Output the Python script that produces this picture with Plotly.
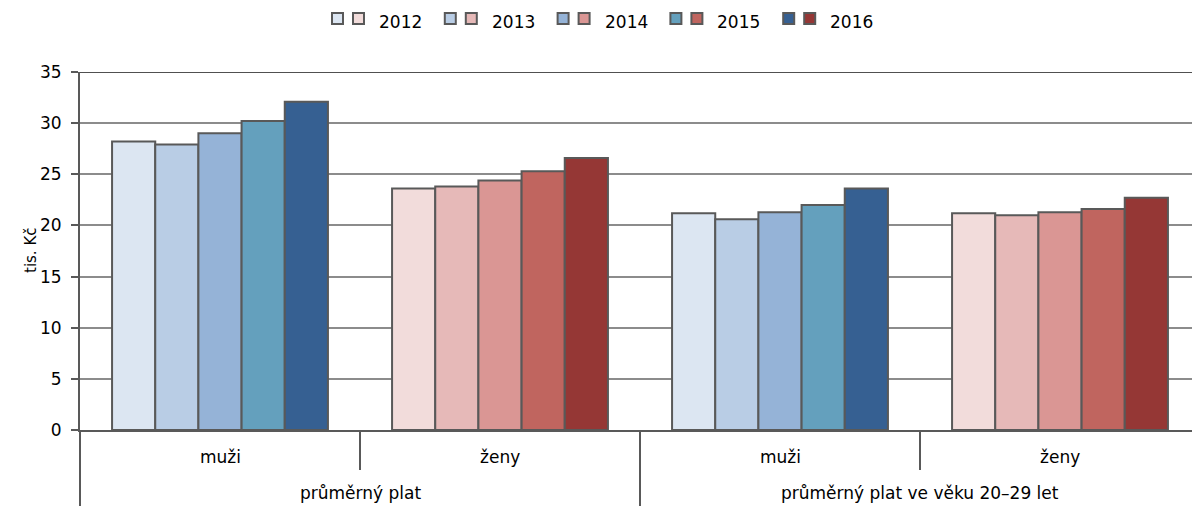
import plotly.graph_objects as go

# ---- data ----
groups = ["průměrný plat", "průměrný plat ve věku 20–29 let"]
sexes = ["muži", "ženy"]
years = ["2012", "2013", "2014", "2015", "2016"]

prumerny_muzi = [28.2, 27.9, 29.0, 30.2, 32.1]
prumerny_zeny = [23.6, 23.8, 24.4, 25.3, 26.6]
mladi_muzi = [21.2, 20.6, 21.3, 22.0, 23.6]
mladi_zeny = [21.2, 21.0, 21.3, 21.6, 22.7]

y_ticks = [0, 5, 10, 15, 20, 25, 30, 35]
y_title = "tis. Kč"

# ---- styling ----
blues = ["#dce6f2", "#b9cde5", "#95b3d7", "#64a0bd", "#366092"]
reds = ["#f2dcdb", "#e6b9b8", "#da9694", "#c0655f", "#953735"]
edge = "#595959"
FONT = "DejaVu Sans"
FS = 17

W, H = 1192, 506
ML, MR, MT, MB = 80, 0, 72, 76
PW, PH = W - ML - MR, H - MT - MB
XR = [-0.5, -0.5 + PW / 280.0]

series = [prumerny_muzi, prumerny_zeny, mladi_muzi, mladi_zeny]
positions = list(range(len(series)))
cat_colors = [blues, reds, blues, reds]

fig = go.Figure()
for i, yr in enumerate(years):
    fig.add_trace(go.Bar(
        x=positions,
        y=[s[i] for s in series],
        name=yr,
        marker=dict(color=[c[i] for c in cat_colors],
                    line=dict(color=edge, width=2)),
        showlegend=False,
        hoverinfo="y",
    ))


def px_x(data_x):
    return (data_x - XR[0]) / (XR[1] - XR[0])


def pix_to_paper_x(px):
    return (px - ML) / PW


def pix_to_paper_y(py):
    return (MT + PH - py) / PH


shapes = []
annotations = []

# top border line at max
shapes.append(dict(type="line", xref="paper", yref="y", x0=0, x1=1, y0=35, y1=35,
                   line=dict(color="#505050", width=2)))

font = dict(size=FS, color="#000", family=FONT)

# category dividers and labels
for j, p in enumerate(positions):
    annotations.append(dict(text=sexes[j % 2], xref="paper", yref="paper",
                            x=px_x(p), y=0, yshift=-27, showarrow=False,
                            xanchor="center", yanchor="middle", font=font))
    if j % 2 == 0:
        shapes.append(dict(type="line", xref="paper", yref="paper",
                           x0=px_x(p - 0.5), x1=px_x(p - 0.5),
                           y0=0, y1=-MB / PH, line=dict(color=edge, width=2)))
        annotations.append(dict(text=groups[j // 2], xref="paper", yref="paper",
                                x=px_x(p + 0.5), y=0, yshift=-63, showarrow=False,
                                xanchor="center", yanchor="middle", font=font))
    else:
        shapes.append(dict(type="line", xref="paper", yref="paper",
                           x0=px_x(p - 0.5), x1=px_x(p - 0.5),
                           y0=0, y1=-40 / PH, line=dict(color=edge, width=2)))

# y title
annotations.append(dict(text=y_title, xref="paper", yref="paper", x=0, y=0.5,
                        xshift=-49, showarrow=False, textangle=-90,
                        xanchor="center", yanchor="middle",
                        font=dict(size=15, color="#000", family=FONT)))

# manual legend (two swatches per year)
leg_x0 = 332
leg_step = 112.8
sq = 11
sq_top = 13
for i, yr in enumerate(years):
    bx = leg_x0 + i * leg_step
    for k, col in enumerate([blues[i], reds[i]]):
        x0 = bx + k * 21
        shapes.append(dict(type="rect", xref="paper", yref="paper",
                           x0=pix_to_paper_x(x0), x1=pix_to_paper_x(x0 + sq),
                           y0=pix_to_paper_y(sq_top + sq), y1=pix_to_paper_y(sq_top),
                           fillcolor=col, line=dict(color=edge, width=2)))
    annotations.append(dict(text=yr, xref="paper", yref="paper",
                            x=pix_to_paper_x(bx + 45), y=pix_to_paper_y(22),
                            showarrow=False, xanchor="left", yanchor="middle",
                            font=font))

fig.update_layout(
    width=W, height=H,
    margin=dict(l=ML, r=MR, t=MT, b=MB, autoexpand=False),
    paper_bgcolor="white", plot_bgcolor="white",
    barmode="group", bargap=0.229, bargroupgap=0,
    font=dict(family=FONT, size=FS, color="#000"),
    shapes=shapes, annotations=annotations,
    showlegend=False,
    xaxis=dict(type="linear", range=XR, showgrid=False, zeroline=False,
               showticklabels=False, ticks="", showline=True,
               linecolor=edge, linewidth=2, fixedrange=True),
    yaxis=dict(range=[0, 35], tickvals=y_ticks, showgrid=True,
               gridcolor="#8c8c8c", gridwidth=1.5, zeroline=False,
               showline=True, linecolor=edge, linewidth=2,
               ticks="outside", ticklen=7, tickwidth=2, tickcolor=edge,
               ticklabelstandoff=6, fixedrange=True,
               tickfont=font),
)

fig.write_html("out.html",
               config={"displayModeBar": False},
               post_script="document.body.style.margin='0px';document.body.style.overflow='hidden';")
